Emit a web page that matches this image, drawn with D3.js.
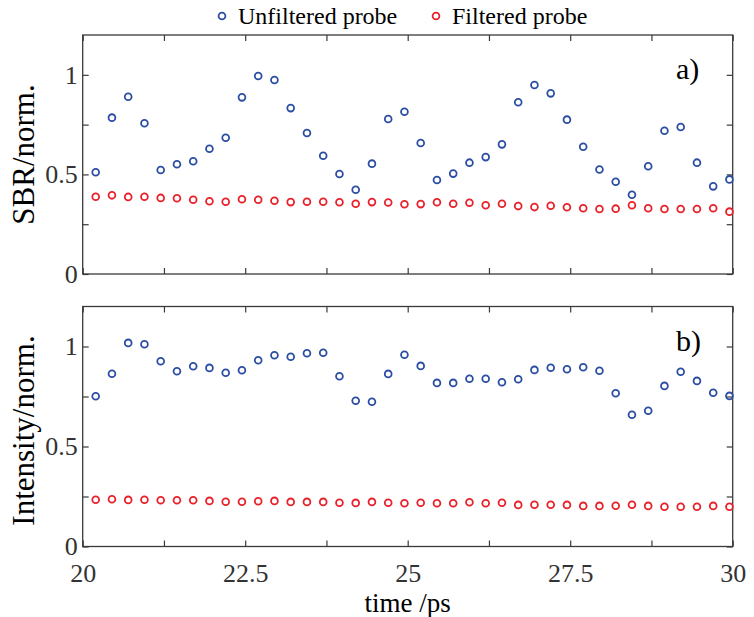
<!DOCTYPE html>
<html><head><meta charset="utf-8">
<script src="https://cdn.jsdelivr.net/npm/d3@7"></script>
<style>body{margin:0;background:#fff}</style>
</head><body>
<svg id="c" width="754" height="617"></svg>
<script>
// ---- data ----
const timePs = [20.2,20.45,20.7,20.95,21.2,21.45,21.7,21.95,22.2,22.45,22.7,22.95,23.2,23.45,23.7,23.95,24.2,24.45,24.7,24.95,
  25.2,25.45,25.7,25.95,26.2,26.45,26.7,26.95,27.2,27.45,27.7,27.95,28.2,28.45,28.7,28.95,29.2,29.45,29.7,29.95];
const sbrUnfiltered = [0.511,0.785,0.890,0.757,0.522,0.551,0.566,0.629,0.684,0.887,0.994,0.974,0.833,0.708,0.594,0.502,0.423,0.554,0.778,0.815,
  0.658,0.472,0.504,0.559,0.587,0.651,0.862,0.949,0.907,0.775,0.639,0.525,0.463,0.398,0.541,0.719,0.738,0.559,0.440,0.475];
const sbrFiltered = [0.388,0.395,0.387,0.388,0.382,0.380,0.373,0.365,0.363,0.375,0.373,0.368,0.361,0.363,0.363,0.360,0.353,0.361,0.359,0.350,
  0.351,0.360,0.353,0.358,0.345,0.353,0.341,0.336,0.343,0.335,0.330,0.326,0.328,0.345,0.330,0.326,0.326,0.326,0.330,0.313];
const intUnfiltered = [0.751,0.864,1.018,1.011,0.926,0.876,0.901,0.893,0.869,0.881,0.931,0.956,0.949,0.966,0.969,0.851,0.729,0.724,0.863,0.959,
  0.903,0.818,0.818,0.839,0.839,0.821,0.836,0.883,0.894,0.886,0.896,0.879,0.766,0.659,0.679,0.803,0.874,0.828,0.769,0.753];
const intFiltered = [0.234,0.236,0.233,0.234,0.231,0.231,0.231,0.228,0.224,0.224,0.226,0.228,0.223,0.223,0.223,0.219,0.218,0.223,0.219,0.216,
  0.219,0.216,0.216,0.221,0.216,0.219,0.208,0.209,0.209,0.208,0.203,0.203,0.204,0.209,0.203,0.199,0.199,0.199,0.203,0.199];
const seriesNames = ["Unfiltered probe","Filtered probe"];
const xTicks = [20,21.25,22.5,23.75,25,26.25,27.5,28.75,30];
const xTickLabels = ["20","","22.5","","25","","27.5","","30"];
const yTicks = [0,0.25,0.5,0.75,1];
const yTickLabels = ["0","","0.5","","1"];
const panelLabels = ["a)","b)"];
const yTitles = ["SBR/norm.","Intensity/norm."];
const xTitle = "time /ps";

// ---- styles ----
const colors = ["#2b4ea3","#e8212b"];
const frameColor = "#3a3a3a";
const serif = "'Liberation Serif','Times New Roman',serif";

const svg = d3.select("#c");
const L = 82.7, R = 732.7;
const panels = [{top:35, bottom:274}, {top:306.5, bottom:546.5}];
const data = [[sbrUnfiltered, sbrFiltered],[intUnfiltered, intFiltered]];

const x = d3.scaleLinear().domain([20,30]).range([L,R]);

panels.forEach((p, pi) => {
  const y = d3.scaleLinear().domain([0,1.2]).range([p.bottom, p.top]);
  const g = svg.append("g");

  const fmtX = d => pi === 1 ? xTickLabels[xTicks.indexOf(d)] : "";
  const fmtY = d => yTickLabels[yTicks.indexOf(d)];

  const axB = g.append("g").attr("transform",`translate(0,${p.bottom})`)
    .call(d3.axisBottom(x).tickValues(xTicks).tickFormat(fmtX).tickSizeInner(-6).tickSizeOuter(0).tickPadding(17.5));
  const axT = g.append("g").attr("transform",`translate(0,${p.top})`)
    .call(d3.axisTop(x).tickValues(xTicks).tickFormat(()=>"").tickSizeInner(-6).tickSizeOuter(0));
  const axL = g.append("g").attr("transform",`translate(${L},0)`)
    .call(d3.axisLeft(y).tickValues(yTicks).tickFormat(fmtY).tickSizeInner(-6).tickSizeOuter(0).tickPadding(5));
  const axR = g.append("g").attr("transform",`translate(${R},0)`)
    .call(d3.axisRight(y).tickValues(yTicks).tickFormat(()=>"").tickSizeInner(-6).tickSizeOuter(0));
  [axB,axT,axL,axR].forEach(a => {
    a.attr("font-family", serif);
    a.select(".domain").remove();
    a.selectAll(".tick line").attr("stroke", frameColor).attr("stroke-width",1.2);
    a.selectAll("text").attr("font-family", serif).attr("font-size", 26).attr("fill", "#333");
  });

  g.append("rect").attr("x",L).attr("y",p.top).attr("width",R-L).attr("height",p.bottom-p.top)
    .attr("fill","none").attr("stroke",frameColor).attr("stroke-width",1.3);

  data[pi].forEach((vals, si) => {
    g.append("g").selectAll("circle").data(vals).join("circle")
      .attr("cx",(d,i)=>x(timePs[i])).attr("cy",d=>y(d)).attr("r",3.4)
      .attr("fill","none").attr("stroke",colors[si]).attr("stroke-width",1.8);
  });

  g.append("text").attr("x",676).attr("y", p.top + 44).attr("font-family",serif).attr("font-size",30)
    .attr("fill","#000").text(panelLabels[pi]);

  const cy = (p.top + p.bottom)/2 + (pi===1 ? 4 : 0);
  g.append("text").attr("transform",`translate(34,${cy}) rotate(-90)`).attr("text-anchor","middle")
    .attr("font-family",serif).attr("font-size",31).attr("fill","#000").text(yTitles[pi]);
});

svg.append("text").attr("x",(L+R)/2).attr("y",612).attr("text-anchor","middle")
  .attr("font-family",serif).attr("font-size",27).attr("fill","#000").text(xTitle);

// legend
const legX = [222, 436];
seriesNames.forEach((n,i) => {
  svg.append("circle").attr("cx",legX[i]).attr("cy",16).attr("r",3.4)
    .attr("fill","none").attr("stroke",colors[i]).attr("stroke-width",1.8);
  svg.append("text").attr("x",legX[i]+16).attr("y",24).attr("font-family",serif).attr("font-size",24)
    .attr("fill","#000").text(n);
});
</script>
</body></html>
